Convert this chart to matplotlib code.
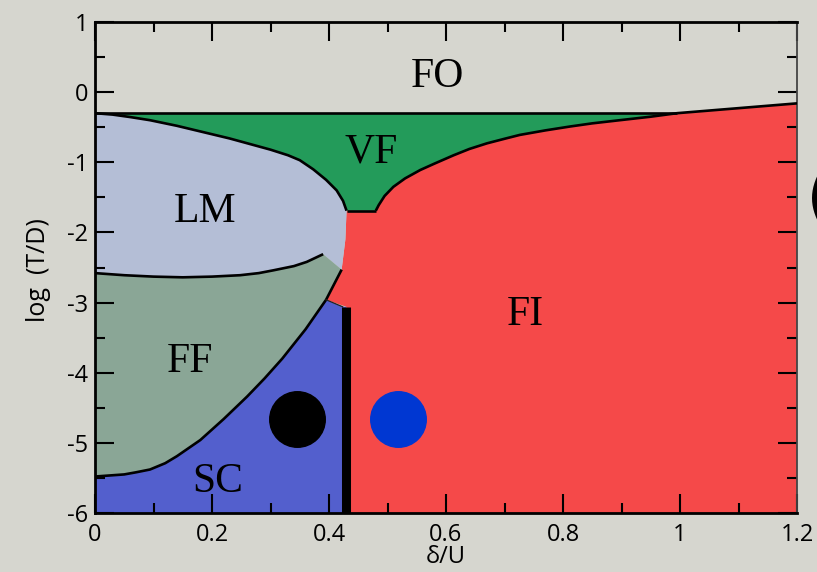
import numpy as np
import matplotlib
matplotlib.use("Agg")
import matplotlib.pyplot as plt

# ---------------- data ----------------
# phase-boundary curves, x = delta/U, y = log(T/D)
top_line_x = [0.0, 0.995]
top_line_y = [-0.30, -0.30]

fi_top_x = [0.995, 1.2]
fi_top_y = [-0.30, -0.16]

lm_vf_x = [0.0, 0.03, 0.06, 0.094, 0.14, 0.18, 0.23, 0.265, 0.30, 0.33, 0.35, 0.373, 0.395, 0.413, 0.424, 0.43]
lm_vf_y = [-0.30, -0.32, -0.355, -0.40, -0.48, -0.56, -0.66, -0.74, -0.82, -0.90, -0.97, -1.10, -1.25, -1.40, -1.55, -1.69]

vf_bottom_x = [0.43, 0.48]
vf_bottom_y = [-1.69, -1.69]

vf_fi_x = [0.48, 0.485, 0.495, 0.51, 0.53, 0.556, 0.58, 0.613, 0.64, 0.67, 0.70, 0.726,
           0.77, 0.812, 0.85, 0.897, 0.95, 0.995]
vf_fi_y = [-1.69, -1.61, -1.48, -1.35, -1.23, -1.11, -1.02, -0.90, -0.81, -0.73, -0.665, -0.61,
           -0.545, -0.49, -0.445, -0.40, -0.35, -0.30]

lm_fi_x = [0.43, 0.428, 0.4216]
lm_fi_y = [-1.69, -2.10, -2.53]

lm_ff_x = [0.0, 0.05, 0.10, 0.15, 0.20, 0.248, 0.28, 0.305, 0.34, 0.362, 0.39]
lm_ff_y = [-2.58, -2.61, -2.63, -2.64, -2.63, -2.61, -2.58, -2.54, -2.48, -2.42, -2.31]

ff_sc_x = [0.0, 0.05, 0.07, 0.094, 0.12, 0.14, 0.18, 0.22, 0.26, 0.29, 0.32, 0.36, 0.385, 0.395]
ff_sc_y = [-5.48, -5.45, -5.42, -5.38, -5.29, -5.19, -4.96, -4.66, -4.34, -4.08, -3.80, -3.38, -3.08, -2.96]

ff_fi_x = [0.395, 0.4216]
ff_fi_y = [-2.96, -2.53]

sc_fi_x = [0.395, 0.4234]
sc_fi_y = [-2.96, -3.06]

wall_x = [0.4296, 0.4296]
wall_y = [-3.06, -6.0]

point_x = [0.3458, 0.5185]
point_y = [-4.66, -4.66]
point_colors = ["black", "#0037d2"]

region_names = ["FO", "VF", "LM", "FF", "SC", "FI"]
region_x = [0.586, 0.472, 0.188, 0.162, 0.21, 0.735]
region_y = [0.07, -1.01, -1.85, -3.99, -5.70, -3.32]

xticks = [0.0, 0.2, 0.4, 0.6, 0.8, 1.0, 1.2]
xtick_labels = ["0", "0.2", "0.4", "0.6", "0.8", "1", "1.2"]
yticks = [-6, -5, -4, -3, -2, -1, 0, 1]
ytick_labels = ["-6", "-5", "-4", "-3", "-2", "-1", "0", "1"]

# ---------------- style ----------------
BG = "#d6d6cf"
C_VF = "#239b5a"
C_LM = "#b4bed6"
C_FF = "#8aa696"
C_SC = "#535fcd"
C_FI = "#f54949"

fig = plt.figure(figsize=(8.17, 5.72), dpi=100, facecolor=BG)
ax = fig.add_axes([95 / 817, 1 - 513 / 572, 702 / 817, 491 / 572])
ax.set_facecolor(BG)
ax.set_xlim(0, 1.2)
ax.set_ylim(-6, 1)

r = lambda a: list(a)[::-1]

# FI (red) region
fi_x = vf_fi_x + fi_top_x[1:] + [1.2, wall_x[1], wall_x[0]] + r(sc_fi_x)[1:] + ff_fi_x[1:] + r(lm_fi_x)[1:]
fi_y = vf_fi_y + fi_top_y[1:] + [-6.0, wall_y[1], wall_y[0]] + r(sc_fi_y)[1:] + ff_fi_y[1:] + r(lm_fi_y)[1:]
ax.fill(fi_x, fi_y, color=C_FI, lw=0, zorder=1)

# VF (green)
vf_x = top_line_x + r(vf_fi_x)[1:] + r(vf_bottom_x)[1:] + r(lm_vf_x)[1:]
vf_y = top_line_y + r(vf_fi_y)[1:] + r(vf_bottom_y)[1:] + r(lm_vf_y)[1:]
ax.fill(vf_x, vf_y, color=C_VF, lw=0, zorder=1)

# LM
lm_x = lm_vf_x + lm_fi_x[1:] + r(lm_ff_x)
lm_y = lm_vf_y + lm_fi_y[1:] + r(lm_ff_y)
ax.fill(lm_x, lm_y, color=C_LM, lw=0, zorder=1)

# FF
ff_x = lm_ff_x + [lm_fi_x[-1]] + r(ff_fi_x)[1:] + r(ff_sc_x)[1:]
ff_y = lm_ff_y + [lm_fi_y[-1]] + r(ff_fi_y)[1:] + r(ff_sc_y)[1:]
ax.fill(ff_x, ff_y, color=C_FF, lw=0, zorder=1)

# SC
sc_x = ff_sc_x + sc_fi_x[1:] + [wall_x[0], wall_x[1], 0.0]
sc_y = ff_sc_y + sc_fi_y[1:] + [wall_y[0], wall_y[1], -6.0]
ax.fill(sc_x, sc_y, color=C_SC, lw=0, zorder=1)

# boundary lines
LW = 1.9
for xs, ys in [(top_line_x, top_line_y), (fi_top_x, fi_top_y), (lm_vf_x, lm_vf_y),
               (vf_bottom_x, vf_bottom_y), (vf_fi_x, vf_fi_y), (lm_ff_x, lm_ff_y),
               (ff_sc_x + ff_fi_x[1:], ff_sc_y + ff_fi_y[1:])]:
    ax.plot(xs, ys, color="black", lw=LW, zorder=3, solid_capstyle="butt",
            solid_joinstyle="round")
ax.plot(sc_fi_x, sc_fi_y, color="#222222", lw=0.9, zorder=3)
ax.plot(wall_x, wall_y, color="black", lw=6.5, zorder=4, solid_capstyle="butt")

for px, py, pc in zip(point_x, point_y, point_colors):
    ax.plot([px], [py], "o", ms=40, color=pc, mec=pc, zorder=5)

for name, tx, ty in zip(region_names, region_x, region_y):
    ax.text(tx, ty, name, fontsize=30, family="Liberation Serif", ha="center",
            va="baseline", color="black", zorder=6)

# axes styling
ax.set_xticks(xticks)
ax.set_xticklabels(xtick_labels)
ax.set_yticks(yticks)
ax.set_yticklabels(ytick_labels)
ax.set_xticks(np.arange(0.1, 1.2, 0.2), minor=True)
ax.set_yticks(np.arange(-5.5, 1.0, 1.0), minor=True)
ax.tick_params(which="both", direction="in", top=True, right=True, width=1.5,
               labelsize=17, colors="black", zorder=7)
ax.tick_params(which="major", length=14)
ax.tick_params(which="minor", length=7)
ax.tick_params(axis="x", pad=7)
ax.tick_params(axis="y", pad=5)
for lab in ax.get_xticklabels() + ax.get_yticklabels():
    lab.set_family("Open Sans")

for s in ["left", "bottom", "top"]:
    ax.spines[s].set_linewidth(2)
    ax.spines[s].set_zorder(8)
ax.spines["right"].set_linewidth(1.3)
ax.spines["right"].set_color("#444444")

ax.set_xlabel("δ/U", fontsize=17, family="Open Sans")
ax.xaxis.label.set_va("center")
ax.xaxis.set_label_coords(0.5, -0.09)
ax.set_ylabel("log  (T/D)", fontsize=18, family="Open Sans")
ax.yaxis.label.set_va("center")
ax.yaxis.set_label_coords(-0.081, 0.495)

# partially visible large character at the right edge of the slide
fig.text(0.986, 0.65, "(", fontsize=50, ha="left", va="center", color="black",
         family="DejaVu Sans", fontweight="bold")

fig.savefig("out.png", dpi=100, facecolor=BG)
